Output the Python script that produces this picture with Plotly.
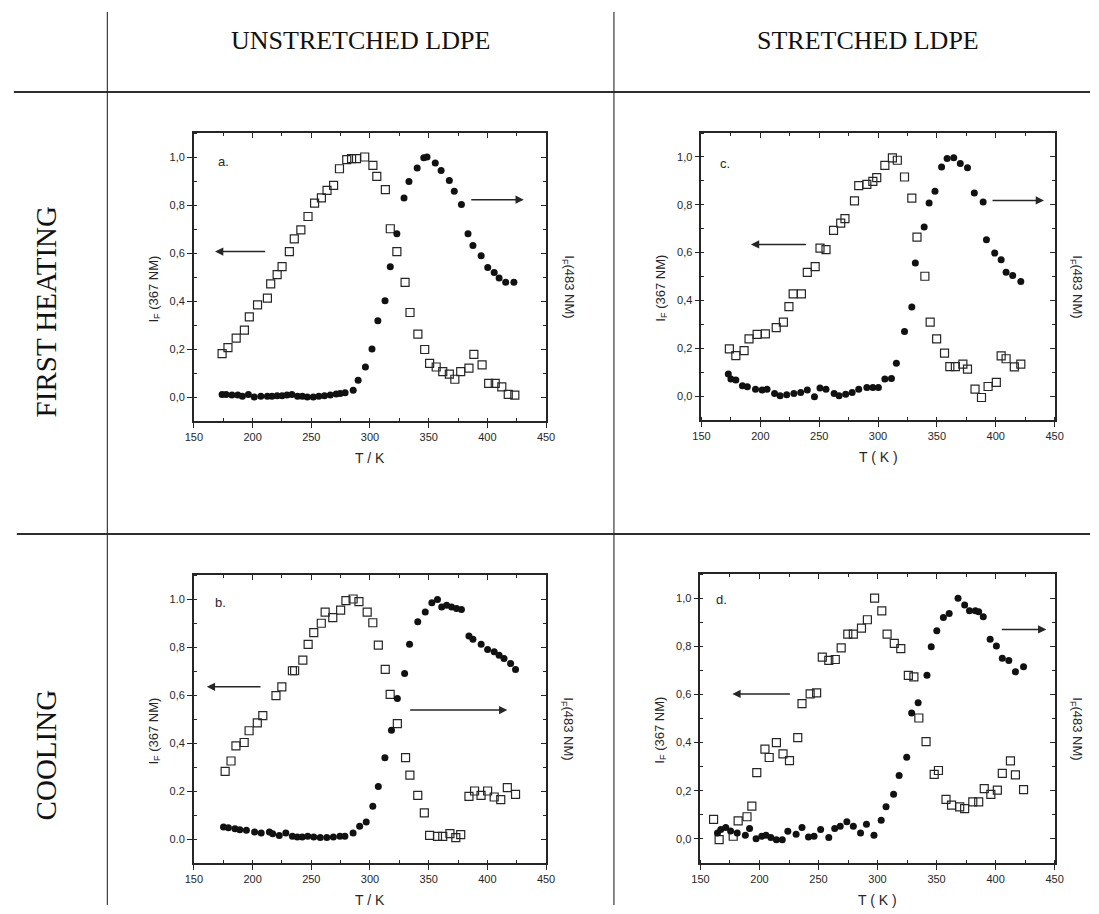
import plotly.graph_objects as go

# ---------------------------------------------------------------------------
# Normalised fluorescence intensities of LDPE films vs temperature.
# "sq" = I_F at 367 nm (open squares), "ci" = I_F at 483 nm (filled circles)
# ---------------------------------------------------------------------------

# (a) unstretched LDPE, first heating
a_sq_T = [174.0, 179.0, 186.0, 193.0, 197.2, 204.2, 212.6, 215.4, 220.9, 225.1,
          231.3, 235.5, 241.1, 247.2, 252.8, 258.6, 263.4, 269.0, 274.0, 280.2,
          284.3, 288.5, 295.5, 302.5, 305.8, 313.1, 317.3, 322.9, 329.9, 334.1,
          340.8, 346.6, 350.8, 356.4, 362.0, 367.6, 372.3, 377.3, 384.3, 388.5,
          395.5, 401.1, 406.7, 412.3, 417.8, 423.4]
a_sq_I = [0.181, 0.206, 0.245, 0.279, 0.334, 0.384, 0.412, 0.471, 0.510, 0.543,
          0.606, 0.659, 0.696, 0.752, 0.808, 0.830, 0.861, 0.882, 0.951, 0.989,
          0.993, 0.993, 1.000, 0.965, 0.919, 0.864, 0.701, 0.606, 0.478, 0.352,
          0.262, 0.198, 0.140, 0.125, 0.106, 0.095, 0.074, 0.106, 0.120, 0.178,
          0.134, 0.057, 0.057, 0.042, 0.011, 0.008]
a_ci_T = [174.0, 177.4, 182.4, 187.4, 191.3, 196.4, 201.4, 207.0, 212.6, 216.5,
          220.9, 225.1, 229.3, 233.5, 238.3, 242.4, 246.6, 251.7, 256.4, 261.2,
          266.2, 271.2, 274.6, 278.8, 285.7, 289.9, 296.1, 301.7, 306.7, 312.8,
          317.3, 322.9, 329.0, 333.2, 340.2, 345.8, 348.6, 355.6, 360.6, 367.6,
          371.8, 377.9, 383.5, 387.7, 394.7, 400.3, 405.8, 410.0, 415.6, 422.6]
a_ci_I = [0.010, 0.010, 0.008, 0.008, 0.003, 0.010, 0.000, 0.003, 0.003, 0.003,
          0.005, 0.005, 0.008, 0.010, 0.003, 0.003, 0.000, 0.000, 0.003, 0.005,
          0.008, 0.012, 0.015, 0.018, 0.028, 0.070, 0.125, 0.200, 0.318, 0.401,
          0.543, 0.680, 0.829, 0.898, 0.954, 0.997, 1.000, 0.975, 0.944, 0.902,
          0.857, 0.802, 0.680, 0.631, 0.589, 0.540, 0.519, 0.496, 0.478, 0.478]

# (c) stretched LDPE, first heating
c_sq_T = [173.7, 179.2, 186.2, 190.4, 197.3, 204.3, 213.5, 219.6, 224.3, 227.9,
          234.9, 239.9, 246.6, 250.7, 255.8, 262.2, 268.3, 271.9, 280.0, 283.6,
          290.5, 295.6, 298.9, 305.8, 312.2, 316.4, 322.5, 328.7, 333.1, 339.8,
          344.3, 349.8, 356.5, 361.0, 365.7, 372.1, 376.0, 382.4, 387.9, 393.5,
          400.5, 404.6, 408.8, 415.8, 421.3]
c_sq_I = [0.197, 0.169, 0.190, 0.239, 0.258, 0.260, 0.286, 0.309, 0.374, 0.427,
          0.427, 0.517, 0.541, 0.619, 0.612, 0.693, 0.723, 0.742, 0.816, 0.880,
          0.885, 0.898, 0.913, 0.965, 0.996, 0.986, 0.916, 0.828, 0.665, 0.501,
          0.309, 0.239, 0.180, 0.123, 0.123, 0.134, 0.113, 0.029, -0.006, 0.040,
          0.057, 0.168, 0.156, 0.122, 0.134]
c_ci_T = [172.8, 175.0, 179.2, 184.8, 189.0, 195.9, 201.5, 205.7, 212.1, 216.8,
          222.4, 228.5, 234.3, 239.9, 246.0, 250.7, 255.8, 262.7, 266.9, 272.5,
          278.0, 283.6, 290.5, 295.6, 300.3, 305.8, 311.4, 315.6, 322.5, 328.7,
          331.7, 339.2, 343.4, 348.4, 354.0, 358.7, 364.3, 369.9, 376.0, 381.8,
          389.3, 392.1, 399.1, 404.6, 408.8, 414.4, 421.3]
c_ci_I = [0.092, 0.071, 0.067, 0.043, 0.039, 0.029, 0.025, 0.029, 0.011, 0.001,
          0.006, 0.011, 0.015, 0.025, -0.003, 0.034, 0.029, 0.011, 0.001, 0.008,
          0.015, 0.029, 0.036, 0.036, 0.036, 0.071, 0.074, 0.137, 0.270, 0.372,
          0.556, 0.707, 0.807, 0.856, 0.958, 0.993, 0.997, 0.972, 0.955, 0.849,
          0.811, 0.654, 0.598, 0.570, 0.518, 0.504, 0.479]

# (b) unstretched LDPE, cooling
b_sq_T = [176.6, 181.6, 185.8, 192.8, 197.0, 204.0, 208.7, 219.9, 224.9, 233.9,
          235.8, 242.8, 247.3, 252.1, 258.5, 261.8, 268.3, 275.0, 279.5, 285.6,
          290.6, 297.6, 302.4, 307.1, 313.0, 317.2, 323.3, 330.3, 334.0, 340.7,
          346.3, 350.8, 357.5, 362.0, 368.1, 373.1, 377.3, 384.3, 389.1, 394.6,
          400.2, 405.8, 411.4, 417.0, 424.0]
b_sq_I = [0.282, 0.325, 0.388, 0.402, 0.451, 0.484, 0.514, 0.597, 0.634, 0.701,
          0.701, 0.745, 0.811, 0.860, 0.899, 0.945, 0.922, 0.954, 0.993, 1.000,
          0.989, 0.945, 0.901, 0.808, 0.707, 0.603, 0.481, 0.339, 0.266, 0.182,
          0.109, 0.015, 0.011, 0.011, 0.022, 0.006, 0.018, 0.178, 0.200, 0.182,
          0.200, 0.175, 0.164, 0.214, 0.186]
b_ci_T = [175.2, 179.4, 185.0, 189.1, 194.7, 201.7, 207.3, 214.3, 217.1, 222.7,
          228.3, 233.9, 238.1, 242.3, 247.0, 252.1, 257.6, 263.2, 268.8, 274.4,
          278.6, 285.6, 291.2, 296.8, 302.4, 307.1, 312.7, 318.3, 323.3, 329.5,
          333.7, 340.7, 347.1, 352.7, 357.5, 361.1, 365.3, 369.5, 373.7, 377.9,
          384.3, 387.7, 394.7, 400.2, 405.8, 410.0, 414.2, 419.8, 424.0]
b_ci_I = [0.050, 0.047, 0.043, 0.039, 0.036, 0.029, 0.025, 0.029, 0.022, 0.015,
          0.025, 0.011, 0.008, 0.008, 0.011, 0.008, 0.006, 0.006, 0.008, 0.011,
          0.011, 0.025, 0.053, 0.071, 0.136, 0.219, 0.339, 0.453, 0.585, 0.690,
          0.811, 0.905, 0.946, 0.984, 0.998, 0.967, 0.974, 0.967, 0.960, 0.956,
          0.846, 0.832, 0.811, 0.790, 0.780, 0.766, 0.752, 0.731, 0.706]

# (d) stretched LDPE, cooling
d_sq_T = [161.1, 165.8, 177.7, 181.9, 189.4, 193.5, 197.7, 204.6, 208.2, 214.3,
          219.9, 225.4, 232.4, 236.0, 242.9, 248.4, 253.2, 258.7, 264.2, 269.2,
          274.8, 279.5, 286.4, 291.4, 297.5, 303.6, 308.1, 314.2, 319.7, 326.1,
          330.8, 335.0, 341.1, 348.0, 351.6, 358.0, 362.7, 369.6, 373.8, 380.7,
          385.7, 390.4, 396.0, 401.5, 405.7, 412.6, 416.8, 423.7]
d_sq_I = [0.081, -0.003, 0.011, 0.075, 0.092, 0.136, 0.275, 0.373, 0.338, 0.400,
          0.353, 0.325, 0.421, 0.562, 0.602, 0.606, 0.755, 0.741, 0.745, 0.793,
          0.850, 0.850, 0.875, 0.910, 1.000, 0.947, 0.850, 0.812, 0.790, 0.679,
          0.673, 0.502, 0.404, 0.268, 0.284, 0.164, 0.140, 0.133, 0.126, 0.154,
          0.154, 0.209, 0.185, 0.203, 0.272, 0.324, 0.266, 0.205]
d_ci_T = [164.4, 167.2, 171.4, 175.5, 181.1, 188.0, 191.6, 197.1, 201.9, 205.5,
          209.6, 214.3, 219.3, 224.0, 231.0, 236.0, 241.5, 246.2, 251.8, 258.7,
          263.7, 268.4, 274.0, 279.5, 285.6, 290.6, 297.0, 303.1, 307.2, 313.6,
          318.3, 324.7, 328.9, 334.4, 341.9, 345.5, 350.2, 355.8, 360.7, 368.2,
          373.8, 377.9, 382.9, 385.7, 389.6, 395.4, 400.7, 405.7, 411.2, 416.8,
          423.7]
d_ci_I = [0.025, 0.039, 0.047, 0.033, 0.025, 0.015, 0.043, 0.001, 0.011, 0.015,
          0.006, -0.003, -0.003, 0.032, 0.019, 0.047, 0.008, 0.011, 0.039, 0.006,
          0.043, 0.053, 0.071, 0.053, 0.025, 0.061, 0.015, 0.078, 0.134, 0.185,
          0.263, 0.339, 0.523, 0.565, 0.680, 0.798, 0.864, 0.919, 0.936, 0.999,
          0.971, 0.947, 0.947, 0.943, 0.922, 0.829, 0.801, 0.750, 0.741, 0.694,
          0.715]

# axis ticks
T_ticks = [150, 200, 250, 300, 350, 400, 450]
I_ticks = [0.0, 0.2, 0.4, 0.6, 0.8, 1.0]
I_labels_comma = ["0,0", "0,2", "0,4", "0,6", "0,8", "1,0"]
I_labels_b = ["0.0", "0.2", "0,4", "0,6", "0,8", "1.0"]

row_titles = ["FIRST HEATING", "COOLING"]
col_titles = ["UNSTRETCHED LDPE", "STRETCHED LDPE"]
left_title = "I<sub>F</sub> (367 NM)"
right_title = "I<sub>F</sub>(483 NM)"

# ---------------------------------------------------------------------------
W, H = 1099, 914
INK = "#262626"
SANS = "Arial, Liberation Sans, sans-serif"
SERIF = "Liberation Serif, Times New Roman, serif"


def fx(p):
    return p / W


def fy(p):
    return 1 - p / H


def paper_text(text, x, y, size, family=SANS, angle=0, color=INK):
    return dict(text=text, x=fx(x), y=fy(y), xref="paper", yref="paper",
                xanchor="center", yanchor="middle", showarrow=False,
                textangle=angle, font=dict(size=size, family=family, color=color))


panels = [
    dict(letter="a.", sq=(a_sq_T, a_sq_I), ci=(a_ci_T, a_ci_I), box=(188, 546, 133, 421),
         ylabels=I_labels_comma, xtitle="T / K",
         larrow=((168, 0.606), (212, 0.606)), rarrow=((431, 0.822), (385, 0.822)),
         letter_pos=(0.084, 0.90)),
    dict(letter="c.", sq=(c_sq_T, c_sq_I), ci=(c_ci_T, c_ci_I), box=(704, 1063, 133, 420),
         ylabels=I_labels_comma, xtitle="T ( K )",
         larrow=((192, 0.634), (240, 0.634)), rarrow=((441, 0.818), (396, 0.818)),
         letter_pos=(0.067, 0.895)),
    dict(letter="b.", sq=(b_sq_T, b_sq_I), ci=(b_ci_T, b_ci_I), box=(188, 546, 575, 863),
         ylabels=I_labels_b, xtitle="T / K",
         larrow=((161, 0.634), (208, 0.634)), rarrow=((417, 0.537), (333, 0.537)),
         letter_pos=(0.075, 0.903)),
    dict(letter="d.", sq=(d_sq_T, d_sq_I), ci=(d_ci_T, d_ci_I), box=(703, 1063, 574, 863),
         ylabels=I_labels_comma, xtitle="T ( K )",
         larrow=((177, 0.602), (227, 0.602)), rarrow=((443, 0.870), (404, 0.870)),
         letter_pos=(0.058, 0.913)),
]

fig = go.Figure()
layout = dict(
    width=W, height=H, autosize=False,
    margin=dict(l=0, r=0, t=0, b=0),
    paper_bgcolor="white", plot_bgcolor="white",
    showlegend=False,
    font=dict(family=SANS, color=INK),
)
annotations = []
shapes = []

for i, p in enumerate(panels, start=1):
    xs = "" if i == 1 else str(i)
    x_id, y_id = "x" + xs, "y" + xs
    xt_id, yr_id = "x" + str(i + 4), "y" + str(i + 4)
    x0, x1, y0, y1 = p["box"]
    xdom = [fx(x0), fx(x1)]
    ydom = [fy(y1), fy(y0)]

    common = dict(showline=True, linecolor=INK, linewidth=1.8, mirror=False,
                  showgrid=False, zeroline=False, fixedrange=True,
                  tickcolor=INK, tickwidth=1.3)
    layout["xaxis" + xs] = dict(
        common, domain=xdom, anchor=y_id, range=[150, 450],
        tickmode="array", tickvals=T_ticks, ticks="outside", ticklen=5,
        minor=dict(tickmode="linear", tick0=150, dtick=25, ticks="inside",
                   ticklen=3, tickcolor=INK, tickwidth=1.2),
        tickfont=dict(size=11, family=SANS, color=INK),
    )
    layout["yaxis" + xs] = dict(
        common, domain=ydom, anchor=x_id, range=[-0.1, 1.1],
        tickmode="array", tickvals=I_ticks, ticktext=p["ylabels"],
        ticks="outside", ticklen=5,
        minor=dict(tickmode="linear", tick0=0, dtick=0.1, ticks="inside",
                   ticklen=3, tickcolor=INK, tickwidth=1.2),
        tickfont=dict(size=11, family=SANS, color=INK),
    )
    # frame: top and right axes carry inward ticks without labels
    layout["xaxis" + str(i + 4)] = dict(
        common, overlaying=x_id, anchor=y_id, side="top", range=[150, 450],
        tickmode="array", tickvals=T_ticks, ticks="inside", ticklen=5,
        showticklabels=False,
        minor=dict(tickmode="linear", tick0=150, dtick=25, ticks="inside",
                   ticklen=3, tickcolor=INK, tickwidth=1.2),
    )
    layout["yaxis" + str(i + 4)] = dict(
        common, overlaying=y_id, anchor=x_id, side="right", range=[-0.1, 1.1],
        tickmode="array", tickvals=I_ticks, ticks="inside", ticklen=5,
        showticklabels=False,
        minor=dict(tickmode="linear", tick0=0, dtick=0.1, ticks="inside",
                   ticklen=3, tickcolor=INK, tickwidth=1.2),
    )
    fig.add_trace(go.Scatter(x=[None], y=[None], xaxis=xt_id, yaxis=y_id,
                             mode="markers", hoverinfo="skip"))
    fig.add_trace(go.Scatter(x=[None], y=[None], xaxis=x_id, yaxis=yr_id,
                             mode="markers", hoverinfo="skip"))

    # I_F (367 nm): open squares
    fig.add_trace(go.Scatter(
        x=p["sq"][0], y=p["sq"][1], xaxis=x_id, yaxis=y_id, mode="markers",
        marker=dict(symbol="square-open", size=8, color=INK, line=dict(width=1.2)),
        cliponaxis=False,
    ))
    # I_F (483 nm): filled circles
    fig.add_trace(go.Scatter(
        x=p["ci"][0], y=p["ci"][1], xaxis=x_id, yaxis=y_id, mode="markers",
        marker=dict(symbol="circle", size=7, color="#111111"),
        cliponaxis=False,
    ))

    # direction arrows
    for (hx, hy), (tx, ty) in (p["larrow"], p["rarrow"]):
        annotations.append(dict(
            x=hx, y=hy, ax=tx, ay=ty, xref=x_id, yref=y_id, axref=x_id, ayref=y_id,
            text="", showarrow=True, arrowhead=2, arrowsize=1.1, arrowwidth=1.5,
            arrowcolor=INK,
        ))

    # panel letter
    annotations.append(dict(
        text=p["letter"], x=p["letter_pos"][0], y=p["letter_pos"][1],
        xref=x_id + " domain", yref=y_id + " domain", showarrow=False,
        xanchor="center", yanchor="middle",
        font=dict(size=13, family=SANS, color=INK),
    ))

    # axis titles
    xc = (x0 + x1) / 2
    yc = (y0 + y1) / 2
    annotations.append(paper_text(p["xtitle"], xc, y1 + 37, 14))
    annotations.append(paper_text(left_title, x0 - 41, yc + 12, 13, angle=-90))
    annotations.append(paper_text(right_title, x1 + 22, yc + 10, 13, angle=90))

# table rules
for xv in (100, 615):
    shapes.append(dict(type="line", xref="paper", yref="paper",
                       x0=fx(xv), x1=fx(xv), y0=fy(12), y1=fy(905),
                       line=dict(color="#3a3a3a", width=1.2)))
for yv, xs0 in ((92, 5), (534, 8)):
    shapes.append(dict(type="line", xref="paper", yref="paper",
                       x0=fx(xs0), x1=1, y0=fy(yv), y1=fy(yv),
                       line=dict(color="#2e2e2e", width=2)))

# column and row headings
for txt, xc in zip(col_titles, (357, 873)):
    annotations.append(paper_text(txt, xc, 40, 26, family=SERIF, color="#111"))
for txt, yc in zip(row_titles, (312, 755)):
    annotations.append(paper_text(txt, 38, yc, 29, family=SERIF, angle=-90, color="#111"))

layout["annotations"] = annotations
layout["shapes"] = shapes
fig.update_layout(**layout)
fig.write_html("out.html")
